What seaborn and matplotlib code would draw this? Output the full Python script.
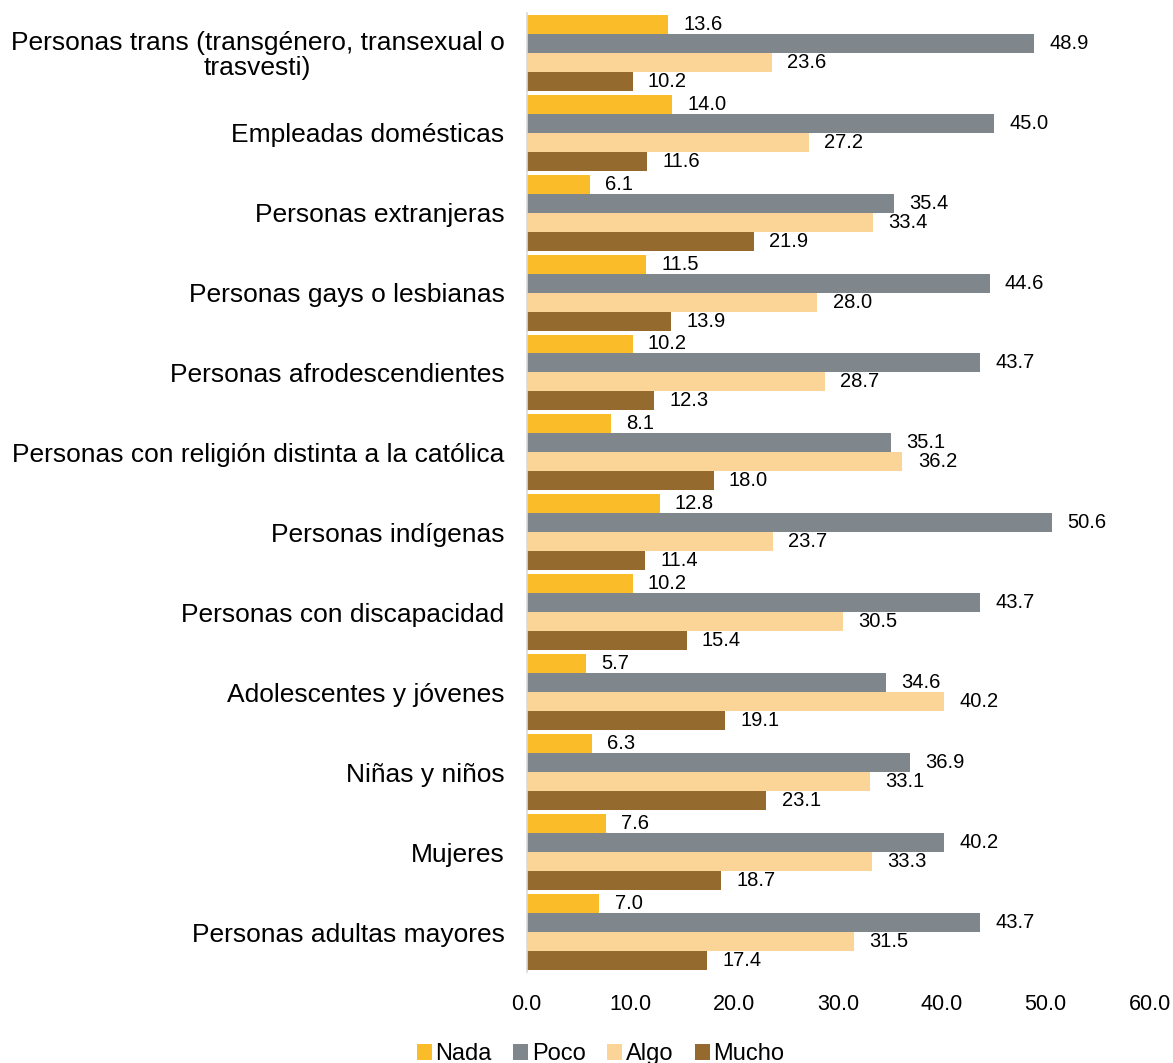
import pandas as pd
import numpy as np
import matplotlib.pyplot as plt
import seaborn as sns

categorias = [
    "Personas trans (transgénero, transexual o\ntrasvesti)",
    "Empleadas domésticas",
    "Personas extranjeras",
    "Personas gays o lesbianas",
    "Personas afrodescendientes",
    "Personas con religión distinta a la católica",
    "Personas indígenas",
    "Personas con discapacidad",
    "Adolescentes y jóvenes",
    "Niñas y niños",
    "Mujeres",
    "Personas adultas mayores",
]
series = ["Nada", "Poco", "Algo", "Mucho"]

nada = [13.6, 14.0, 6.1, 11.5, 10.2, 8.1, 12.8, 10.2, 5.7, 6.3, 7.6, 7.0]
poco = [48.9, 45.0, 35.4, 44.6, 43.7, 35.1, 50.6, 43.7, 34.6, 36.9, 40.2, 43.7]
algo = [23.6, 27.2, 33.4, 28.0, 28.7, 36.2, 23.7, 30.5, 40.2, 33.1, 33.3, 31.5]
mucho = [10.2, 11.6, 21.9, 13.9, 12.3, 18.0, 11.4, 15.4, 19.1, 23.1, 18.7, 17.4]

colores = ["#FBBC2A", "#7F878C", "#FAD597", "#946A2F"]

# long-form table for seaborn
df = pd.DataFrame({"categoria": categorias, "Nada": nada, "Poco": poco,
                   "Algo": algo, "Mucho": mucho})
df = df.melt(id_vars="categoria", var_name="serie", value_name="valor")

sns.set_style("white")
plt.rcParams["font.family"] = ["Liberation Sans", "DejaVu Sans"]
plt.rcParams["text.color"] = "black"
plt.rcParams["xtick.color"] = "black"
plt.rcParams["ytick.color"] = "black"

fig = plt.figure(figsize=(11.73, 10.63), dpi=100)
ax = fig.add_axes([0.449, 0.0856, 0.531, 0.9024])

sns.barplot(data=df, y="categoria", x="valor", hue="serie", hue_order=series,
            order=categorias, palette=colores, saturation=1, width=0.95,
            orient="h", linewidth=0, ax=ax)

for cont in ax.containers:
    ax.bar_label(cont, fmt="%.1f", padding=11, fontsize=14.5, color="black")

ax.set_xlim(0, 60)
ax.set_xticks(np.arange(0, 61, 10))
ax.set_xticklabels([f"{v:.1f}" for v in np.arange(0, 61, 10)], fontsize=15.5)
ax.set_ylim(len(categorias) - 0.5, -0.5)
ax.set_xlabel("")
ax.set_ylabel("")
ax.tick_params(axis="x", length=0, pad=16)
ax.tick_params(axis="y", length=0, pad=16, labelsize=19)
for lab in ax.get_yticklabels():
    lab.set_multialignment("center")
    lab.set_linespacing(1.05)

for s in ["top", "right", "bottom"]:
    ax.spines[s].set_visible(False)
ax.spines["left"].set_color("#d9d9d9")
ax.spines["left"].set_linewidth(1.2)

ax.legend(loc="lower center", bbox_to_anchor=(0.512, -0.002),
          bbox_transform=fig.transFigure, ncol=4,
          frameon=False, fontsize=17, handlelength=0.65, handleheight=0.65,
          handletextpad=0.15, columnspacing=0.9, borderaxespad=0, borderpad=0)

fig.savefig("out.png", dpi=100)
